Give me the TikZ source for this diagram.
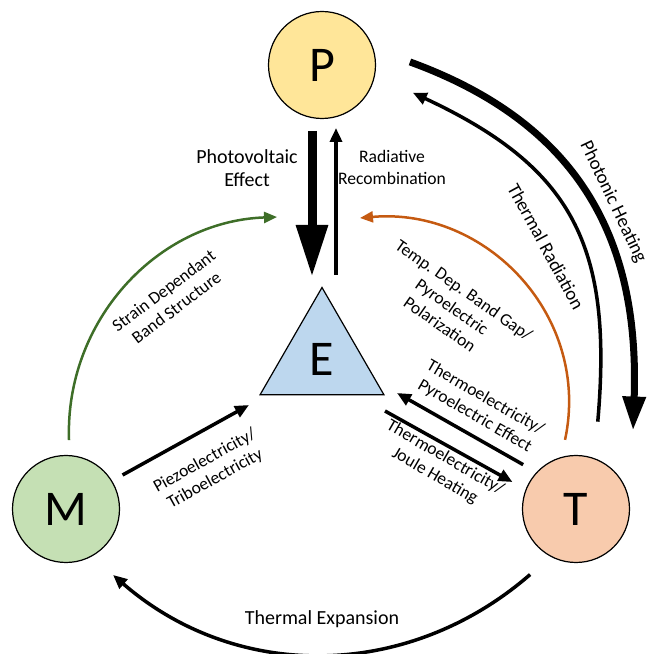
\documentclass[tikz,border=0pt]{standalone}
\usepackage{fontspec}
\setmainfont{Carlito}
\usetikzlibrary{arrows.meta,calc,shapes.geometric}

\definecolor{pfill}{RGB}{255,230,153}
\definecolor{mfill}{RGB}{197,224,180}
\definecolor{tfill}{RGB}{248,203,173}
\definecolor{efill}{RGB}{189,215,238}
\definecolor{strain}{RGB}{62,110,40}
\definecolor{tempdep}{RGB}{197,90,17}

\tikzset{
	state/.style={draw, circle, line width=1.2pt, minimum size=107pt, inner sep=0pt, outer sep=0pt, font=\fontsize{50}{60}\selectfont},
	thin arrow/.style={line width=3.5pt, -{Triangle[length=14pt,width=12pt]}},
	curve arrow/.style={line width=2.5pt, -{Triangle[length=13pt,width=11pt]}},
	tag/.style={font=\fontsize{20}{23}\selectfont, align=center},
	slant tag/.style={font=\fontsize{17.5}{21}\selectfont, align=center},
}

\begin{document}
\begin{tikzpicture}[x=1pt, y=1pt]
	\useasboundingbox (0,0) rectangle (649,654);

	\node (P) [state, fill=pfill] at (322, 589) {P};
	\node (M) [state, fill=mfill] at (66, 145) {M};
	\node (T) [state, fill=tfill] at (576, 145) {T};
	\node (E) [draw, fill=efill, regular polygon, regular polygon sides=3, minimum size=143pt, inner sep=0pt, outer sep=0pt, line width=1.2pt, font=\fontsize{50}{60}\selectfont] at (322, 295) {E};

	\draw [line width=9pt, -{Triangle[length=52pt,width=30pt]}] ($(P)+(-10,-66)$) -- ($(E)+(-10,82)$);
	\draw [thin arrow] ($(E)+(14,84)$) -- ($(P)+(14,-63)$);
	\node (PV) [tag] at (247, 486) {Photovoltaic\\Effect};
	\node (RR) [tag, font=\fontsize{17.6}{22}\selectfont] at (392, 487) {Radiative\\Recombination};

	\coordinate (StrainEnd) at ($(E)+(-45,142)$);
	\draw [curve arrow, strain] ($(M)+(87.5:69)$) to[out=92, in=182] (StrainEnd);
	\node (SD) [slant tag, rotate=37] at (170, 355) {Strain Dependant\\Band Structure};

	\coordinate (TempEnd) at ($(E)+(38,141)$);
	\draw [curve arrow, tempdep] ($(T)+(99:70)$) to[out=78, in=5, looseness=1.07] (TempEnd);
	\node (TD) [slant tag, rotate=-35] at (452, 347) {Temp. Dep. Band Gap/\\Pyroelectric\\Polarization};

	\draw [line width=7pt, -{Triangle[length=34pt,width=22pt]}] ($(P)+(2:88)$) to[out=-20, in=88, looseness=1.1] ($(T)+(54:97)$);
	\node (PH) [tag, font=\fontsize{19}{23}\selectfont, rotate=-64.5] at (613, 452) {Photonic Heating};
	\draw [thin arrow] ($(T)+(76:90)$) to[out=85, in=-25, looseness=1.2] ($(P)+(-17:95)$);
	\node (TR) [tag, font=\fontsize{18.8}{23}\selectfont, rotate=-61.5] at (546, 407.5) {Thermal Radiation};

	\draw [thin arrow] ($(M)+(31:66)$) -- ($(E)+(-73,-46)$);
	\node (PZ) [slant tag, rotate=29] at (210, 184) {Piezoelectricity/\\Triboelectricity};

	\draw [thin arrow] ($(T)+(140:69)$) -- ($(E)+(75,-34)$);
	\node (TP) [slant tag, rotate=-30] at (480, 247) {Thermoelectricity/\\Pyroelectric Effect};
	\draw [thin arrow] ($(E)+(63,-52)$) -- ($(T)+(157:69)$);
	\node (TJ) [slant tag, rotate=-30] at (440, 187) {Thermoelectricity/\\Joule Heating};

	\draw [thin arrow] ($(T)+(235:80)$) to[out=221, in=-41] ($(M)+(-54.5:81)$);
	\node (TE) [tag] at (322, 35) {Thermal Expansion};
\end{tikzpicture}
\end{document}
